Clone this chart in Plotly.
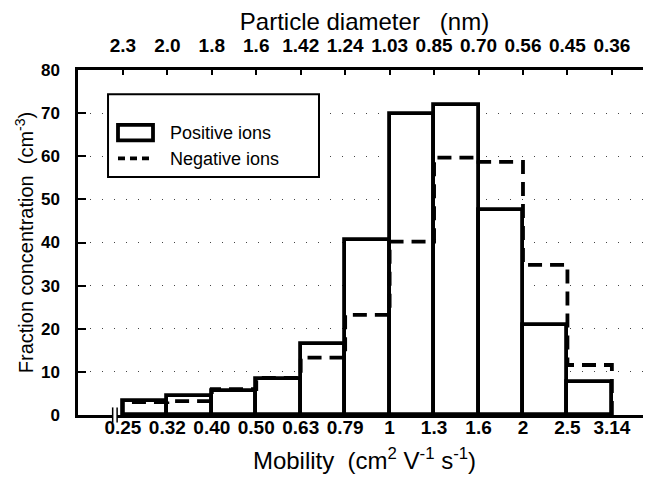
import plotly.graph_objects as go

mobility_ticks = ["0.25", "0.32", "0.40", "0.50", "0.63", "0.79", "1", "1.3", "1.6", "2", "2.5", "3.14"]
diameter_ticks = ["2.3", "2.0", "1.8", "1.6", "1.42", "1.24", "1.03", "0.85", "0.70", "0.56", "0.45", "0.36"]
positive_ions = [3.2, 4.5, 5.5, 8.3, 16.5, 40.6, 69.8, 71.9, 47.5, 20.9, 7.7]
negative_ions = [3.0, 3.2, 6.0, 8.6, 13.3, 23.2, 40.2, 59.7, 58.7, 34.8, 11.6]

FONT = "Liberation Sans, Arial, sans-serif"
n = len(positive_ions)
edges = list(range(n + 1))
centers = [i + 0.5 for i in range(n)]

fig = go.Figure()
fig.add_trace(go.Bar(
    x=centers, y=positive_ions, width=1, name="Positive ions", showlegend=False,
    marker=dict(color="white", line=dict(color="black", width=3.8)),
))
neg_x = [0] + edges
neg_y = [0] + negative_ions + [0]
fig.add_trace(go.Scatter(
    x=neg_x, y=neg_y, mode="lines", name="Negative ions", line_shape="hv", showlegend=False,
    line=dict(color="black", width=3.8, dash="14px,8px"),
))
# invisible trace for top axis
fig.add_trace(go.Scatter(x=edges, y=[None] * len(edges), xaxis="x2", showlegend=False, hoverinfo="skip"))

xrange = [-1.01, 11.88]
fig.update_layout(
    width=651, height=484,
    margin=dict(l=70, r=8, t=62, b=77),
    paper_bgcolor="white", plot_bgcolor="white",
    font=dict(family=FONT, color="black"),
    showlegend=False,
    xaxis=dict(range=xrange, tickvals=edges, ticktext=mobility_ticks, automargin=False,
               ticks="", showline=True, linecolor="black", linewidth=2.5,
               showgrid=False, zeroline=False,
               tickfont=dict(size=19, family=FONT, weight="bold"),
               ticklabelstandoff=-7,
               title=dict(text="Mobility  (cm<sup>2</sup> V<sup>-1</sup> s<sup>-1</sup>)",
                          font=dict(size=24, family=FONT), standoff=16)),
    xaxis2=dict(range=xrange, overlaying="x", side="top", anchor="y", automargin=False,
                tickvals=edges, ticktext=diameter_ticks,
                ticks="inside", ticklen=5, tickwidth=1.5, tickcolor="black",
                showline=True, linecolor="black", linewidth=2.5,
                showgrid=False, zeroline=False,
                tickfont=dict(size=19, family=FONT, weight="bold"),
                ticklabelstandoff=8,
                title=dict(text="Particle diameter   (nm)",
                           font=dict(size=24, family=FONT), standoff=0)),
    yaxis=dict(range=[0, 80], tickvals=[0, 10, 20, 30, 40, 50, 60, 70, 80], automargin=False,
               ticks="inside", ticklen=8, tickwidth=1.5, tickcolor="black",
               showline=True, linecolor="black", linewidth=2.5, mirror="ticks",
               showgrid=True, gridcolor="#444", gridwidth=1, griddash="1px,11px",
               zeroline=False,
               tickfont=dict(size=17, family=FONT, weight="bold"),
               ticklabelstandoff=12,
               title=dict(text="Fraction concentration  (cm<sup>-3</sup>)",
                          font=dict(size=20, family=FONT), standoff=2)),
    bargap=0,
)

# legend drawn as decoration (paper coordinates)
fig.add_shape(type="rect", xref="paper", yref="paper", x0=0.0524, x1=0.4206, y0=0.690, y1=0.930,
              fillcolor="white", line=dict(color="black", width=2), layer="above")
fig.add_shape(type="rect", xref="paper", yref="paper", x0=0.0698, x1=0.1309, y0=0.796, y1=0.841,
              fillcolor="white", line=dict(color="black", width=3.8), layer="above")
fig.add_shape(type="line", xref="paper", yref="paper", x0=0.0698, x1=0.1309, y0=0.744, y1=0.744,
              line=dict(color="black", width=3.8, dash="7px,5px"), layer="above")
fig.add_annotation(xref="paper", yref="paper", x=0.157, y=0.818, xanchor="left", yanchor="middle",
                   text="Positive ions", showarrow=False, font=dict(size=18, family=FONT))
fig.add_annotation(xref="paper", yref="paper", x=0.157, y=0.742, xanchor="left", yanchor="middle",
                   text="Negative ions", showarrow=False, font=dict(size=18, family=FONT))

# axis break symbol on the bottom axis
fig.add_shape(type="rect", xref="x", yref="paper", x0=-0.23, x1=-0.13, y0=-0.01, y1=0.01,
              fillcolor="white", line=dict(width=0), layer="above")
for xb in [-0.23, -0.13]:
    fig.add_shape(type="line", xref="x", yref="paper", x0=xb, x1=xb, y0=-0.022, y1=0.022,
                  line=dict(color="black", width=1.5), layer="above")

fig.write_html("out.html")
